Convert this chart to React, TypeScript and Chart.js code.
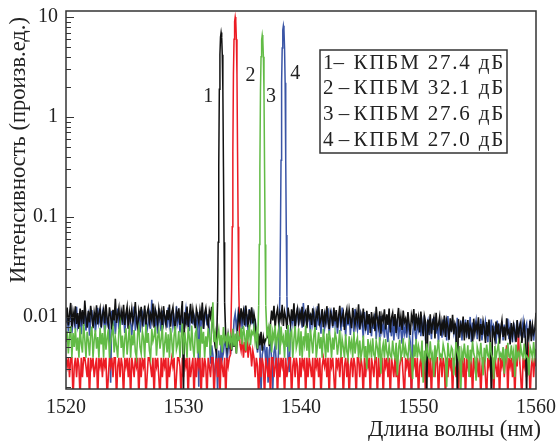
import React, { useEffect, useRef } from "react";
import { Chart, registerables } from "chart.js";
Chart.register(...registerables);

// Noise floor sampling: one row per nanometre starting at 1520 nm, 0.1 nm between values
const X_START = 1520;
const X_STEP = 0.1;

// Noise floor values, in units of 1e-3 (arb. units)
const blackNoise = [
  [9.8, 12.4, 8.2, 10.6, 13.8, 7.9, 11.2, 9.1, 12.8, 8.5],
  [10.9, 7.6, 12.1, 9.4, 11.7, 8.1, 14.6, 9.9, 7.8, 11.5],
  [8.8, 12.9, 10.2, 7.7, 11.1, 9.3, 13.1, 8.4, 10.7, 12.2],
  [7.9, 10.4, 11.9, 8.6, 13.4, 9.7, 8.2, 12.5, 10.1, 7.5],
  [11.8, 9.2, 15.2, 8.7, 10.5, 12.3, 7.8, 11.4, 9.6, 13.2],
  [8.3, 10.8, 12.7, 7.6, 11.3, 9.5, 12.0, 8.9, 10.3, 14.1],
  [9.0, 7.7, 11.6, 10.0, 12.6, 8.5, 9.8, 13.0, 7.9, 11.0],
  [12.4, 8.8, 10.6, 9.2, 13.6, 7.8, 11.9, 10.4, 8.6, 12.1],
  [9.7, 11.3, 7.6, 12.8, 10.1, 8.4, 11.7, 9.3, 13.3, 8.0],
  [10.9, 12.5, 8.9, 7.5, 11.4, 9.9, 12.2, 8.3, 10.7, 14.4],
  [1.8, 11.1, 9.0, 12.7, 7.9, 10.3, 13.5, 8.6, 11.8, 9.5],
  [7.7, 12.0, 10.5, 8.8, 11.6, 9.2, 13.9, 7.6, 10.8, 12.3],
  [9.4, 8.1, 11.5, 10.0, 12.6, 8.7, 6.2, 5.0, 4.4, 5.0],
  [5.0, 5.0, 5.0, 5.0, 5.0, 5.0, 6.0, 4.8, 6.6, 5.3],
  [6.1, 4.6, 7.2, 5.0, 6.4, 4.3, 7.5, 10.8, 8.9, 12.2],
  [9.6, 11.4, 8.2, 13.0, 10.1, 7.9, 11.8, 9.3, 12.5, 8.6],
  [10.7, 9.0, 6.6, 4.7, 6.8, 5.2, 7.1, 4.6, 6.3, 5.5],
  [6.0, 6.2, 7.2, 5.1, 8.4, 11.6, 9.2, 12.9, 7.8, 10.5],
  [12.0, 8.7, 10.9, 9.4, 13.2, 8.1, 11.3, 9.8, 7.6, 12.4],
  [10.2, 8.5, 11.9, 9.1, 13.7, 7.9, 10.6, 12.1, 8.8, 11.0],
  [9.3, 12.6, 8.0, 10.8, 11.5, 7.7, 13.1, 9.6, 10.4, 8.3],
  [12.2, 9.8, 7.5, 11.2, 10.0, 13.6, 8.6, 9.4, 12.0, 7.9],
  [10.6, 8.9, 12.8, 9.5, 7.6, 11.3, 10.2, 8.1, 12.4, 9.0],
  [11.7, 7.8, 10.1, 12.9, 8.7, 9.9, 11.1, 7.4, 10.5, 12.0],
  [8.5, 11.8, 9.6, 7.7, 12.3, 10.0, 8.2, 11.0, 9.3, 13.4],
  [7.6, 10.4, 8.8, 12.1, 9.1, 7.3, 11.5, 8.4, 10.7, 6.9],
  [11.2, 8.6, 10.0, 7.2, 12.6, 9.4, 8.0, 11.4, 6.8, 10.3],
  [9.2, 11.9, 7.5, 10.6, 8.3, 12.1, 7.0, 9.8, 11.0, 8.1],
  [10.7, 6.9, 9.5, 12.3, 8.0, 10.1, 7.4, 11.6, 8.8, 9.6],
  [7.8, 11.2, 8.6, 6.6, 10.4, 9.0, 12.0, 7.3, 10.8, 8.4],
  [9.9, 7.0, 11.3, 8.2, 6.4, 10.2, 8.9, 1.6, 9.4, 7.6],
  [10.6, 6.8, 8.7, 9.8, 6.1, 11.0, 7.7, 8.4, 10.0, 6.5],
  [8.9, 7.4, 10.3, 6.3, 9.2, 8.0, 5.9, 9.7, 7.1, 10.5],
  [6.7, 8.6, 7.8, 1.8, 9.5, 6.2, 8.3, 7.2, 10.1, 5.8],
  [8.8, 7.0, 9.3, 6.0, 8.1, 7.5, 5.6, 9.6, 6.9, 8.4],
  [7.3, 9.9, 5.7, 8.5, 6.6, 9.1, 7.8, 5.5, 8.9, 6.4],
  [9.4, 6.1, 1.5, 8.2, 7.0, 5.9, 9.0, 6.7, 8.6, 5.4],
  [7.6, 9.2, 6.3, 8.0, 5.8, 9.7, 6.9, 7.4, 5.3, 8.7],
  [6.5, 8.3, 7.1, 5.6, 9.3, 6.2, 7.9, 8.8, 5.5, 7.2],
  [8.5, 5.9, 1.7, 7.7, 6.4, 9.1, 5.7, 8.2, 6.8, 7.5],
  [11],
];
const redNoise = [
  [3.9, 3.2, 3.9, 2.5, 3.9, 3.9, 1.5, 3.2, 3.9, 2.5],
  [3.9, 3.2, 1.5, 3.9, 2.5, 3.9, 3.9, 3.2, 2.5, 3.9],
  [1.5, 3.9, 3.2, 3.9, 2.5, 3.2, 3.9, 1.5, 3.9, 3.2],
  [3.9, 2.5, 3.9, 3.2, 3.9, 1.5, 2.5, 3.9, 3.2, 3.9],
  [2.5, 3.9, 3.9, 1.5, 3.2, 3.9, 2.5, 3.9, 3.2, 1.5],
  [3.9, 3.2, 3.9, 2.5, 3.9, 1.5, 3.9, 3.2, 2.5, 3.9],
  [3.2, 3.9, 1.5, 3.9, 2.5, 3.9, 3.2, 3.9, 1.5, 2.5],
  [3.9, 3.9, 3.2, 2.5, 3.9, 1.5, 3.9, 3.2, 3.9, 2.5],
  [1.5, 3.9, 2.5, 3.9, 3.2, 3.9, 1.5, 3.9, 2.5, 3.2],
  [3.9, 3.2, 3.9, 1.5, 2.5, 3.9, 3.9, 3.2, 1.5, 3.9],
  [2.5, 3.9, 3.2, 3.9, 1.5, 3.9, 2.5, 3.2, 3.9, 1.5],
  [3.9, 2.5, 3.9, 3.2, 3.9, 1.5, 3.9, 2.5, 3.9, 3.2],
  [1.5, 3.9, 3.2, 2.5, 3.9, 3.9, 1.5, 3.2, 3.9, 2.5],
  [3.9, 1.5, 3.9, 3.2, 2.5, 3.9, 1.5, 3.9, 3.2, 3.9],
  [4.2, 3.9, 3.9, 3.9, 3.9, 3.9, 3.9, 3.9, 5.4, 4.6],
  [6.2, 3.9, 5.6, 4.4, 6.0, 3.9, 5.2, 4.8, 3.2, 4.6],
  [3.9, 2.5, 3.9, 3.2, 1.5, 3.9, 2.5, 3.9, 3.2, 1.5],
  [3.9, 3.2, 2.5, 3.9, 1.5, 3.9, 3.9, 2.5, 3.2, 3.9],
  [1.5, 3.9, 2.5, 3.9, 3.2, 3.9, 1.5, 3.9, 2.5, 3.2],
  [3.9, 3.9, 1.5, 3.2, 3.9, 2.5, 3.9, 3.2, 1.5, 3.9],
  [2.5, 3.9, 3.2, 3.9, 1.5, 3.9, 2.5, 3.9, 3.2, 2.5],
  [3.9, 1.5, 3.9, 3.2, 3.9, 2.5, 3.9, 1.5, 3.2, 3.9],
  [3.2, 3.9, 2.5, 3.9, 1.5, 3.9, 3.2, 3.9, 2.5, 1.5],
  [3.9, 3.2, 3.9, 2.5, 3.9, 3.9, 1.5, 3.2, 3.9, 2.5],
  [3.9, 1.5, 3.2, 3.9, 2.5, 3.9, 3.2, 1.5, 3.9, 3.9],
  [2.5, 3.9, 3.2, 1.5, 3.9, 2.5, 3.9, 3.2, 3.9, 1.5],
  [3.9, 3.2, 2.5, 3.9, 3.9, 1.5, 3.9, 2.5, 3.2, 3.9],
  [1.5, 3.9, 3.2, 3.9, 2.5, 3.9, 1.5, 3.9, 3.2, 2.5],
  [3.9, 2.5, 3.9, 1.5, 3.2, 3.9, 3.9, 2.5, 1.5, 3.9],
  [3.2, 3.9, 2.5, 3.9, 1.5, 3.9, 3.2, 3.9, 2.5, 3.9],
  [1.5, 3.2, 3.9, 2.5, 3.9, 3.9, 1.5, 3.2, 3.9, 2.5],
  [3.9, 1.5, 3.9, 3.2, 2.5, 3.9, 3.9, 1.5, 3.2, 3.9],
  [2.5, 3.9, 3.2, 1.5, 3.9, 2.5, 3.9, 3.2, 3.9, 1.5],
  [3.9, 3.2, 2.5, 3.9, 1.5, 3.9, 3.2, 3.9, 2.5, 3.9],
  [1.5, 3.9, 3.2, 3.9, 2.5, 3.9, 1.5, 3.9, 3.2, 2.5],
  [3.9, 2.5, 3.9, 1.5, 3.2, 3.9, 3.9, 2.5, 1.5, 3.9],
  [3.2, 3.9, 2.5, 3.9, 1.5, 3.9, 3.2, 2.5, 3.9, 1.5],
  [3.9, 3.2, 3.9, 2.5, 3.9, 5.2, 1.5, 3.9, 3.2, 3.9],
  [2.5, 3.9, 1.5, 3.9, 3.2, 6.8, 3.9, 2.5, 1.5, 3.9],
  [3.2, 3.9, 2.5, 5.6, 3.9, 1.5, 3.2, 3.9, 2.5, 3.9],
  [3.2],
];
const greenNoise = [
  [5.6, 7.2, 4.3, 6.4, 8.1, 3.9, 6.9, 5.0, 7.7, 4.6],
  [6.2, 3.9, 7.9, 5.4, 4.4, 8.5, 6.0, 3.9, 7.1, 5.8],
  [4.1, 6.7, 8.0, 3.9, 5.9, 7.4, 4.8, 6.3, 3.9, 7.8],
  [5.3, 6.9, 3.9, 8.3, 4.7, 6.1, 7.5, 3.9, 5.6, 6.8],
  [7.9, 4.4, 6.2, 5.1, 3.9, 7.3, 8.6, 4.9, 6.5, 3.9],
  [6.0, 7.7, 4.2, 5.8, 8.2, 3.9, 6.6, 5.2, 7.4, 4.5],
  [3.9, 6.8, 7.9, 5.0, 4.3, 7.1, 6.1, 3.9, 8.4, 5.5],
  [6.9, 4.6, 3.9, 7.6, 5.7, 6.4, 8.0, 4.1, 6.2, 7.3],
  [4.8, 6.0, 8.3, 3.9, 5.4, 7.0, 4.4, 6.7, 3.9, 7.8],
  [5.9, 3.9, 6.5, 8.1, 4.7, 5.3, 7.2, 3.9, 6.3, 8.6],
  [4.2, 7.0, 5.5, 3.9, 7.9, 6.2, 4.6, 8.2, 5.1, 3.9],
  [6.8, 7.5, 4.3, 6.0, 3.9, 8.0, 5.4, 7.1, 3.9, 6.4],
  [5.0, 7.7, 6.2, 4.1, 8.3, 14.0, 5.6, 6.9, 4.8, 6.1],
  [7.4, 5.2, 6.6, 4.4, 7.9, 5.8, 6.3, 4.9, 7.0, 5.5],
  [6.4, 4.7, 7.6, 5.1, 6.8, 4.3, 7.2, 5.9, 6.1, 7.8],
  [5.3, 8.1, 6.5, 4.6, 7.4, 6.0, 8.4, 5.2, 7.1, 6.7],
  [7.9, 5.6, 6.9, 4.8, 5.0, 5.0, 5.0, 5.0, 5.0, 5.0],
  [5.0, 6.6, 7.7, 5.3, 8.5, 4.4, 7.0, 5.9, 8.2, 4.7],
  [6.5, 7.6, 4.2, 8.0, 5.7, 6.3, 3.9, 7.4, 5.0, 8.3],
  [4.5, 6.8, 7.3, 3.9, 6.0, 8.1, 4.9, 5.6, 7.7, 4.1],
  [7.2, 3.9, 6.4, 5.3, 8.2, 4.6, 6.9, 3.9, 7.5, 5.8],
  [4.3, 6.6, 7.9, 3.9, 5.2, 7.0, 4.8, 6.3, 3.9, 7.6],
  [5.5, 3.9, 6.8, 4.4, 7.3, 5.9, 3.9, 6.2, 4.7, 7.0],
  [6.1, 4.2, 5.4, 7.4, 3.9, 6.0, 5.0, 3.9, 6.7, 4.5],
  [3.9, 6.4, 4.8, 5.7, 3.9, 7.1, 4.3, 5.5, 6.2, 3.9],
  [5.8, 3.9, 4.6, 6.5, 3.9, 5.1, 3.0, 6.0, 4.4, 5.3],
  [3.9, 6.1, 4.2, 3.9, 5.7, 4.9, 3.9, 6.3, 2.7, 4.6],
  [5.4, 3.9, 6.0, 4.5, 3.9, 5.2, 4.1, 3.9, 5.8, 4.3],
  [3.9, 5.5, 2.6, 4.8, 5.9, 3.9, 4.4, 6.1, 3.9, 5.0],
  [4.2, 3.9, 5.6, 4.7, 3.9, 2.4, 5.3, 4.0, 6.0, 3.9],
  [5.1, 4.4, 3.9, 5.8, 2.2, 4.6, 3.9, 5.4, 4.1, 3.9],
  [5.7, 3.9, 4.3, 2.5, 5.2, 3.9, 4.8, 5.9, 3.9, 4.2],
  [3.9, 5.3, 4.6, 3.9, 2.0, 5.5, 4.1, 3.9, 5.0, 4.7],
  [2.6, 3.9, 5.6, 4.4, 3.9, 5.1, 1.8, 4.5, 3.9, 5.4],
  [4.0, 3.9, 5.2, 2.5, 4.7, 3.9, 5.7, 4.3, 3.9, 2.3],
  [5.0, 4.4, 3.9, 5.5, 3.9, 2.6, 4.9, 3.9, 5.3, 4.1],
  [3.9, 5.6, 4.2, 3.9, 2.4, 5.1, 3.9, 4.6, 5.4, 3.9],
  [4.3, 3.9, 5.0, 2.7, 4.8, 3.9, 5.5, 4.0, 3.9, 5.2],
  [3.9, 4.6, 2.5, 5.3, 3.9, 4.4, 3.9, 5.1, 4.2, 3.9],
  [5.4, 3.9, 4.1, 3.9, 2.6, 5.0, 4.5, 3.9, 5.6, 4.0],
  [4.8],
];
const blueNoise = [
  [8.6, 10.4, 7.1, 9.8, 11.3, 6.9, 9.2, 10.7, 7.5, 12.6],
  [8.1, 9.5, 11.4, 6.7, 10.2, 8.9, 12.1, 7.3, 9.9, 10.9],
  [6.5, 9.3, 11.7, 8.3, 10.5, 7.1, 9.1, 12.3, 8.7, 10.1],
  [7.7, 11.1, 9.5, 6.9, 10.7, 8.5, 9.8, 7.9, 2.2, 11.5],
  [8.1, 10.3, 6.7, 9.9, 12.1, 7.5, 9.1, 10.9, 8.3, 11.1],
  [6.9, 9.7, 11.9, 7.7, 10.5, 8.9, 6.6, 9.3, 12.7, 7.3],
  [10.1, 8.5, 11.1, 7.0, 9.6, 10.8, 8.0, 12.0, 9.2, 7.4],
  [8.8, 10.6, 7.6, 14.8, 9.4, 11.2, 8.2, 10.0, 6.8, 12.2],
  [9.0, 7.2, 11.6, 8.6, 10.4, 9.8, 7.8, 12.4, 8.4, 10.2],
  [11.0, 8.0, 9.6, 7.4, 12.8, 8.8, 10.6, 7.0, 9.2, 11.4],
  [7.6, 9.8, 12.0, 8.2, 10.8, 7.2, 11.6, 9.0, 8.6, 10.4],
  [9.4, 7.8, 11.2, 2.0, 10.0, 8.4, 12.6, 7.6, 9.6, 11.0],
  [8.2, 10.6, 7.4, 3.4, 5.2, 4.2, 2.4, 3.0, 5.0, 1.8],
  [4.6, 2.6, 5.4, 3.8, 4.4, 6.0, 5.2, 3.6, 4.8, 5.6],
  [4.2, 6.4, 5.0, 9.2, 10.8, 7.8, 9.6, 12.6, 8.4, 10.2],
  [7.6, 9.8, 11.4, 8.0, 10.6, 7.2, 12.0, 9.4, 8.8, 10.6],
  [7.8, 9.6, 5.8, 4.4, 6.0, 5.6, 1.8, 4.2, 4.8, 5.2],
  [3.6, 5.0, 2.2, 4.6, 5.4, 3.8, 1.9, 4.4, 5.2, 3.4],
  [2.6, 4.8, 5.0, 5.0, 5.0, 5.0, 5.0, 5.0, 5.0, 3.8],
  [2.8, 7.4, 10.2, 8.6, 11.8, 7.6, 9.4, 12.4, 8.2, 10.6],
  [11.6, 7.8, 13.8, 9.2, 10.6, 8.0, 12.2, 9.4, 7.0, 10.8],
  [8.6, 11.4, 9.8, 7.4, 12.8, 8.2, 10.0, 6.8, 11.6, 9.0],
  [7.6, 10.4, 8.8, 12.2, 6.6, 9.6, 11.0, 7.8, 10.2, 8.4],
  [11.2, 6.8, 9.4, 10.6, 7.2, 12.4, 8.0, 9.8, 6.4, 10.8],
  [8.2, 11.6, 6.6, 9.2, 10.0, 7.0, 12.0, 8.8, 7.4, 9.6],
  [7.4, 10.4, 8.6, 6.2, 11.2, 7.8, 9.4, 6.6, 10.6, 8.0],
  [6.4, 9.8, 7.6, 10.8, 6.0, 8.8, 9.6, 5.8, 10.2, 7.2],
  [8.4, 6.2, 9.8, 7.0, 5.6, 9.4, 7.8, 6.4, 10.0, 5.8],
  [8.6, 7.2, 9.6, 6.0, 8.2, 7.4, 5.4, 9.2, 6.8, 8.0],
  [6.2, 9.4, 7.0, 5.6, 1.8, 6.6, 9.0, 7.2, 5.8, 8.6],
  [7.4, 9.8, 6.4, 8.8, 7.0, 10.4, 5.8, 8.2, 9.2, 6.6],
  [8.8, 6.0, 9.6, 7.4, 10.0, 6.8, 8.4, 5.6, 9.2, 7.8],
  [6.2, 9.4, 7.2, 8.6, 5.8, 10.2, 6.6, 8.0, 7.4, 9.0],
  [7.0, 8.6, 5.4, 9.8, 6.8, 7.6, 9.2, 5.8, 8.4, 7.2],
  [9.4, 6.2, 8.0, 7.4, 10.0, 5.6, 8.8, 6.6, 7.8, 9.2],
  [6.0, 8.4, 7.2, 9.6, 5.8, 8.0, 6.8, 9.0, 7.4, 5.6],
  [8.6, 7.0, 9.4, 6.2, 8.2, 7.6, 5.4, 9.2, 6.8, 8.0],
  [7.2, 9.0, 5.8, 8.4, 6.6, 7.8, 9.6, 6.0, 8.2, 7.0],
  [5.6, 8.8, 6.4, 7.6, 9.2, 5.8, 8.0, 6.8, 7.4, 9.0],
  [6.2, 7.8, 8.6, 5.6, 7.2, 9.4, 6.4, 8.0, 5.8, 7.6],
  [7.4],
];

// Laser lines: wavelength (nm) and intensity (arb. units)
const blackPeakX = [1532.9, 1532.95, 1533.0, 1533.05, 1533.1, 1533.15, 1533.2, 1533.25, 1533.3, 1533.35, 1533.4, 1533.45, 1533.5];
const blackPeakY = [0.014, 0.056, 0.32, 1.9, 4.2, 6.3, 7.0, 6.3, 4.2, 1.9, 0.32, 0.056, 0.014];
const redPeakX = [1534.1, 1534.15, 1534.2, 1534.25, 1534.3, 1534.35, 1534.4, 1534.45, 1534.5, 1534.55, 1534.6, 1534.65, 1534.7];
const redPeakY = [0.02, 0.08, 0.45, 2.7, 6.0, 9.0, 10, 9.0, 6.0, 2.7, 0.45, 0.08, 0.02];
const greenPeakX = [1536.4, 1536.45, 1536.5, 1536.55, 1536.6, 1536.65, 1536.7, 1536.75, 1536.8, 1536.85, 1536.9, 1536.95, 1537.0];
const greenPeakY = [0.013, 0.053, 0.3, 1.8, 4.0, 5.9, 6.6, 5.9, 4.0, 1.8, 0.3, 0.053, 0.013];
const bluePeakX = [1538.2, 1538.25, 1538.3, 1538.35, 1538.4, 1538.45, 1538.5, 1538.55, 1538.6, 1538.65, 1538.7, 1538.75, 1538.8];
const bluePeakY = [0.016, 0.066, 0.37, 2.2, 4.9, 7.4, 8.2, 7.4, 4.9, 2.2, 0.37, 0.066, 0.016];

const peakCenters = [1533.2, 1534.4, 1536.7, 1538.5];
const curveLabels = ["1", "2", "3", "4"];
const curveLabelX = [1532.1, 1535.7, 1537.45, 1539.5];
const curveLabelY = [1.58, 2.6, 1.58, 2.7];
const legendPrefixes = ["1–", "2 –", "3 –", "4 –"];
const legendBodies = ["КПБМ 27.4 дБ", "КПБМ 32.1 дБ", "КПБМ 27.6 дБ", "КПБМ 27.0 дБ"];
const yMajorTicks = [0.01, 0.1, 1, 10];
const xTicks = [1520, 1530, 1540, 1550, 1560];

const COLORS = ["#111111", "#ec1c24", "#62bb46", "#3a55a6"];
const SERIF = "'Liberation Serif', 'Times New Roman', serif";

function buildSeries(rows: number[][], px: number[], py: number[], center: number) {
  const pts: { x: number; y: number }[] = [];
  rows.forEach((row, r) => {
    row.forEach((v, j) => {
      const x = +(X_START + r + j * X_STEP).toFixed(2);
      if (Math.abs(x - center) >= 0.35) pts.push({ x, y: v / 1000 });
    });
  });
  px.forEach((x, i) => pts.push({ x, y: py[i] }));
  pts.sort((a, b) => a.x - b.x);
  return pts;
}

const decorPlugin = {
  id: "decor",
  afterDraw(chart: any) {
    const { ctx, chartArea: a, scales } = chart;
    const ys = scales.y;
    const xs = scales.x;
    ctx.save();
    ctx.strokeStyle = "#333";
    ctx.lineWidth = 1.5;
    ctx.strokeRect(a.left, a.top, a.right - a.left, a.bottom - a.top);
    ctx.lineWidth = 1;
    for (const d of [0.001, 0.01, 0.1, 1, 10]) {
      for (let k = 1; k <= 9; k++) {
        const v = k * d;
        if (v < ys.min || v > ys.max) continue;
        const py = Math.round(ys.getPixelForValue(v)) + 0.5;
        ctx.beginPath();
        ctx.moveTo(a.left, py);
        ctx.lineTo(a.left + (k === 1 ? 8 : 5), py);
        ctx.stroke();
      }
    }
    ctx.fillStyle = "#222";
    ctx.font = `20px ${SERIF}`;
    ctx.textAlign = "center";
    ctx.textBaseline = "middle";
    curveLabels.forEach((t, i) => {
      ctx.fillText(t, xs.getPixelForValue(curveLabelX[i]), ys.getPixelForValue(curveLabelY[i]));
    });
    const bx = 320, by = 50, bw = 187, bh = 103;
    ctx.fillStyle = "#fff";
    ctx.fillRect(bx, by, bw, bh);
    ctx.strokeStyle = "#333";
    ctx.lineWidth = 1.5;
    ctx.strokeRect(bx, by, bw, bh);
    ctx.fillStyle = "#222";
    ctx.font = `21px ${SERIF}`;
    legendPrefixes.forEach((t, i) => {
      const ty = by + 13 + i * 25.7;
      (ctx as any).letterSpacing = "0px";
      ctx.textAlign = "left";
      ctx.fillText(t, bx + 3, ty);
      (ctx as any).letterSpacing = "1.8px";
      ctx.textAlign = "right";
      ctx.fillText(legendBodies[i], bx + bw - 2, ty);
    });
    (ctx as any).letterSpacing = "0px";
    ctx.font = `22.5px ${SERIF}`;
    ctx.textAlign = "right";
    ctx.fillText("Длина волны (нм)", 541, 430);
    ctx.save();
    ctx.translate(19, 150);
    ctx.rotate(-Math.PI / 2);
    ctx.textAlign = "center";
    ctx.fillText("Интенсивность (произв.ед.)", 0, 0);
    ctx.restore();
    ctx.restore();
  },
};

export default function App() {
  const ref = useRef<HTMLCanvasElement>(null);
  useEffect(() => {
    const series = [
      buildSeries(blackNoise, blackPeakX, blackPeakY, peakCenters[0]),
      buildSeries(redNoise, redPeakX, redPeakY, peakCenters[1]),
      buildSeries(greenNoise, greenPeakX, greenPeakY, peakCenters[2]),
      buildSeries(blueNoise, bluePeakX, bluePeakY, peakCenters[3]),
    ];
    // drawing order: green on top, then black, red, blue underneath
    const order = [1, 2, 0, 3];
    const chart = new Chart(ref.current!, {
      type: "line",
      data: {
        datasets: series.map((d, i) => ({
          data: d,
          borderColor: COLORS[i],
          borderWidth: 1.6,
          segment: {
            borderWidth: (c: any) => (c.p0.parsed.y > 0.016 || c.p1.parsed.y > 0.016 ? 1.5 : 1.6),
          },
          pointRadius: 0,
          tension: 0,
          fill: false,
          order: order[i],
        })),
      },
      options: {
        animation: false,
        responsive: false,
        events: [],
        layout: { padding: { top: 11, right: 22, left: 0, bottom: 0 } },
        plugins: { legend: { display: false }, tooltip: { enabled: false } },
        scales: {
          x: {
            type: "linear",
            min: 1520,
            max: 1560,
            grid: { display: false, drawTicks: false },
            border: { display: false },
            afterBuildTicks: (s: any) => {
              s.ticks = xTicks.map((v) => ({ value: v }));
            },
            afterFit: (s: any) => {
              s.height = 52;
              s.paddingLeft = 0;
              s.paddingRight = 0;
            },
            ticks: {
              padding: 7,
              color: "#222",
              font: { family: SERIF, size: 20 },
              maxRotation: 0,
              callback: (v: any) => String(v),
            },
          },
          y: {
            type: "logarithmic",
            min: 0.0019,
            max: 11.5,
            grid: { display: false, drawTicks: false },
            border: { display: false },
            afterBuildTicks: (s: any) => {
              s.ticks = yMajorTicks.map((v) => ({ value: v }));
            },
            afterFit: (s: any) => {
              s.width = 66;
              s.paddingTop = 0;
              s.paddingBottom = 0;
            },
            ticks: {
              padding: 8,
              color: "#222",
              font: { family: SERIF, size: 20 },
              callback: (v: any) => String(v),
            },
          },
        },
      },
      plugins: [decorPlugin],
    });
    return () => chart.destroy();
  }, []);
  return (
    <div style={{ position: "fixed", left: 0, top: 0, width: 558, height: 441, background: "#fff" }}>
      <canvas ref={ref} width={558} height={441} style={{ width: 558, height: 441 }} />
    </div>
  );
}
